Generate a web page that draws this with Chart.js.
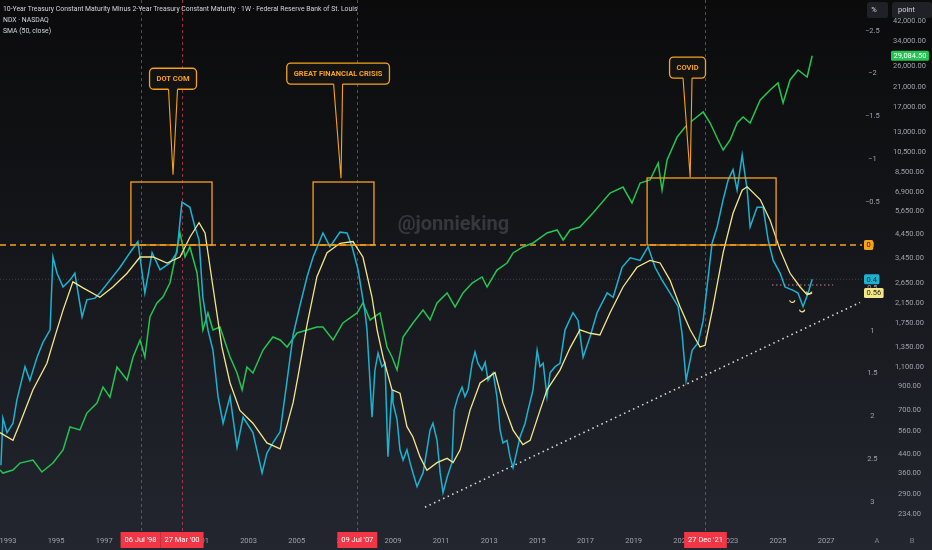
<!DOCTYPE html>
<html><head><meta charset="utf-8">
<script src="https://cdn.jsdelivr.net/npm/chart.js@4.4.0/dist/chart.umd.min.js"></script>
<style>
html,body{margin:0;padding:0;width:932px;height:550px;overflow:hidden;}
body{background:linear-gradient(to bottom,#0b0b0c 0%,#111215 30%,#1a1c22 65%,#23262f 100%);font-family:Roboto,"Noto Sans",sans-serif;}
#wrap{position:relative;width:932px;height:550px;}
#c{position:absolute;left:0;top:0;}
.hdr{position:absolute;left:3px;color:#d1d4dc;font-size:6.85px;line-height:9px;white-space:nowrap;}
</style></head><body>
<div id="wrap">
<canvas id="c" width="932" height="550"></canvas>
<div class="hdr" style="top:5px">10-Year Treasury Constant Maturity Minus 2-Year Treasury Constant Maturity · 1W · Federal Reserve Bank of St. Louis</div>
<div class="hdr" style="top:16px">NDX · NASDAQ</div>
<div class="hdr" style="top:27px">SMA (50, close)</div>
</div>
<script>
// ---- data ----
const spreadYears = [1992.71,1992.79,1992.96,1993.21,1993.37,1993.71,1993.91,1994.21,1994.45,1994.75,1994.87,1995.04,1995.29,1995.58,1995.78,1996.08,1996.28,1996.62,1996.82,1997.24,1997.66,1998.07,1998.40,1998.69,1998.99,1999.32,1999.73,2000.02,2000.23,2000.56,2000.77,2000.94,2001.10,2001.31,2001.52,2001.73,2001.94,2002.23,2002.52,2002.77,2003.18,2003.56,2003.76,2004.01,2004.31,2004.60,2004.85,2005.14,2005.43,2005.68,2006.09,2006.38,2006.80,2007.09,2007.30,2007.55,2007.84,
  2007.92,2008.13,2008.25,2008.38,2008.54,2008.67,2008.79,2008.96,2009.00,2009.17,2009.29,2009.42,2009.58,2009.71,2009.83,2010.00,2010.12,2010.25,2010.41,2010.54,2010.66,2010.83,2010.96,2011.08,2011.25,2011.45,2011.54,2011.70,2011.87,2011.99,2012.12,2012.29,2012.41,2012.53,2012.70,2012.83,2012.95,2013.16,2013.32,2013.45,2013.57,2013.74,2013.86,2013.99,2014.16,2014.28,2014.49,2014.61,2014.82,2014.99,2015.11,2015.24,2015.40,2015.53,2015.74,2015.94,
  2016.15,2016.48,2016.69,2016.90,2017.19,2017.48,2017.90,2018.15,2018.52,2018.86,2019.27,2019.60,2019.89,2020.18,2020.51,2020.85,2021.01,2021.18,2021.43,2021.68,2021.89,2022.26,2022.47,2022.72,2022.93,2023.13,2023.30,2023.51,2023.72,2023.84,2024.13,2024.38,2024.59,2024.80,2025.09,2025.29,2025.63,2025.83,2026.04,2026.25,2026.42];
const spreadValues = [2.57,2.02,2.19,2.08,1.81,1.42,1.58,1.31,1.14,0.99,0.14,0.33,0.49,0.41,0.33,0.84,0.64,0.62,0.56,0.41,0.26,0.09,-0.04,0.56,0.09,0.29,0.21,0.09,-0.50,-0.44,-0.21,-0.06,0.61,0.99,1.23,1.77,2.08,1.77,2.36,2.01,2.19,2.66,2.43,2.31,2.18,1.58,1.05,0.70,0.37,0.14,-0.14,0.02,-0.15,-0.14,0.02,0.29,0.79,
  0.99,2.01,1.46,1.26,1.42,1.38,2.47,1.69,1.84,2.04,2.39,2.51,2.39,2.54,2.66,2.82,2.74,2.66,2.39,2.16,2.08,2.28,2.66,2.89,2.71,2.54,1.93,1.77,1.66,1.77,1.69,1.38,1.25,1.38,1.46,1.37,1.58,1.49,1.77,2.16,2.31,2.28,2.47,2.60,2.39,2.24,2.08,1.93,1.69,1.23,1.42,1.38,1.77,1.49,1.42,1.38,
  0.99,0.79,0.88,1.31,1.07,0.79,0.56,0.61,0.26,0.15,0.18,0.02,0.26,0.41,0.56,0.72,1.03,1.58,1.23,1.14,0.88,-0.02,-0.21,-0.53,-0.76,-0.88,-0.64,-1.05,-0.64,-0.21,-0.44,-0.44,-0.06,0.18,0.33,0.49,0.53,0.56,0.72,0.56,0.40];

const smaYears = [1992.67,1993.21,1993.50,1994.04,1994.62,1994.95,1995.29,1995.70,1996.12,1996.82,1997.36,1997.95,1998.49,1999.03,1999.61,2000.15,2000.56,2000.94,2001.19,2001.52,2001.89,2002.23,2002.64,2003.18,2003.76,2004.31,2004.60,2004.85,2005.05,2005.43,2005.84,2006.26,2006.80,2007.34,2007.75,2008.13,
  2008.34,2008.59,2008.96,2009.29,2009.58,2009.83,2010.12,2010.41,2010.83,2011.25,2011.50,2011.79,2012.20,2012.62,2013.24,2013.57,2013.99,2014.40,2014.70,2015.11,2015.40,2015.94,
  2016.36,2016.77,2017.19,2017.60,2018.02,2018.56,2019.14,2019.68,2020.10,2020.51,2020.93,2021.35,2021.76,2021.97,2022.30,2022.72,2023.13,2023.51,2023.72,2024.26,2024.67,2025.09,2025.50,2025.92,2026.21,2026.42];
const smaValues = [2.19,2.28,2.08,1.69,1.38,1.07,0.76,0.43,0.50,0.61,0.49,0.33,0.14,0.14,0.21,0.14,-0.09,-0.26,-0.14,0.49,1.19,1.61,1.93,2.08,2.31,2.38,2.10,1.84,1.54,0.93,0.37,0.09,-0.02,-0.04,0.14,0.61,
  0.99,1.31,1.69,1.73,2.12,2.24,2.47,2.63,2.54,2.49,2.54,2.39,1.93,1.61,1.49,1.84,2.16,2.33,2.28,1.93,1.69,1.46,
  1.20,0.99,1.03,1.05,0.79,0.49,0.26,0.18,0.21,0.41,0.72,0.99,1.19,1.17,0.72,0.09,-0.37,-0.64,-0.68,-0.53,-0.29,0.06,0.33,0.49,0.58,0.56];

const ndxYears = [1992.67,1992.79,1993.21,1993.50,1994.04,1994.41,1994.87,1995.29,1995.58,1995.99,1996.28,1996.70,1996.95,1997.24,1997.53,1997.95,1998.20,1998.49,1998.69,1998.90,1999.19,1999.44,1999.73,2000.02,2000.15,2000.36,2000.56,2000.86,2001.10,2001.31,2001.52,2001.81,2002.23,2002.52,2002.73,2002.93,2003.18,2003.60,2004.01,2004.31,2004.60,2005.01,2005.43,2005.84,2006.09,2006.51,2006.92,2007.51,2007.75,2008.05,2008.46,2008.75,2008.96,2009.17,2009.42,2009.83,2010.25,2010.54,2010.83,2011.25,2011.58,2011.91,2012.29,2012.70,2012.91,2013.32,2013.74,2013.99,2014.40,2014.82,2015.40,2015.82,2016.07,2016.36,2016.77,2017.31,2018.02,2018.56,2018.93,2019.27,2019.68,2020.02,2020.18,2020.39,2020.81,2021.14,2021.47,2021.89,2022.18,2022.51,2022.72,2023.01,2023.30,2023.55,2023.84,2024.26,2024.67,2025.00,2025.21,2025.50,2025.83,2026.21,2026.42];
const ndxValues = [372,360,372,400,413,364,400,459,585,567,677,752,890,801,1099,959,1221,1461,1221,1860,2156,2296,2661,3766,4504,3498,3887,2956,1623,1941,1623,1675,1221,1032,863,1099,1032,1314,1508,1461,1357,1572,1623,1675,1675,1461,1747,1941,2156,1803,1941,1357,1221,1065,1508,1747,2002,1803,2156,2395,2067,2395,2661,2835,2551,3050,3284,3649,3887,4054,4504,4648,4183,4648,4797,5557,6860,7305,6175,7621,7865,9406,7079,9707,12367,13739,14790,16090,14326,11983,10783,11983,14326,15264,14326,18250,20284,21830,17684,22534,25030,23254,29084.5];

const trendYears = [2010.33, 2028.41];
const trendValues = [3.06, 0.67];

const xTickYears = [1993,1995,1997,1999,2001,2003,2005,2007,2009,2011,2013,2015,2017,2019,2021,2023,2025,2027];
const pctTicks = [-2.5,-2,-1.5,-1,-0.5,0,0.5,1,1.5,2,2.5,3];
const pointTicks = [234,290,360,440,560,700,900,1100,1350,1750,2150,2650,3450,4450,5650,6900,8500,10500,13000,17000,21000,26000,34000,42000];

const eventDates = [1998.51, 2000.235, 2007.518, 2021.986];
const eventLabels = ["06 Jul '98", "27 Mar '00", "09 Jul '07", "27 Dec '21"];

const crisisNames = ['DOT COM', 'GREAT FINANCIAL CRISIS', 'COVID'];
const crisisStart = [1998.11, 2005.68, 2019.56];
const crisisEnd = [2001.48, 2008.21, 2024.92];
const crisisTop = [-0.735, -0.735, -0.782];

// ---- styling / annotation placement ----
const COL = {orange:'#f7a21b', blue:'#1cb3d1', yellow:'#f3e78c', green:'#24c552', red:'#f23645', tick:'#9ea1aa'};
const calloutPos = [ {x:1999.86, y:-1.94, tx:1999.86, ty:-0.82},
                     {x:2006.72, y:-2.00, tx:2006.84, ty:-0.78},
                     {x:2021.24, y:-2.07, tx:2021.35, ty:-0.79} ];
const FONT = 'Roboto, "Noto Sans", sans-serif';

const pts = (xs, ys) => xs.map((x,i)=>({x, y: ys[i]}));

function rr(ctx,x,y,w,h,r){ctx.beginPath();ctx.moveTo(x+r,y);ctx.arcTo(x+w,y,x+w,y+h,r);ctx.arcTo(x+w,y+h,x,y+h,r);ctx.arcTo(x,y+h,x,y,r);ctx.arcTo(x,y,x+w,y,r);ctx.closePath();}

const overlay = {
  id:'overlay',
  beforeDatasetsDraw(chart){
    const {ctx, chartArea:a, scales} = chart;
    const xs = scales.x, ys = scales.ySpread;
    ctx.save();
    ctx.font = 'bold 20px ' + FONT;
    ctx.fillStyle = 'rgba(120,124,136,0.34)';
    ctx.textAlign = 'center'; ctx.textBaseline = 'middle';
    ctx.fillText('@jonnieking', a.left + a.width*0.526, a.top + a.height*0.425);
    const yl = ys.getPixelForValue(spreadValues[spreadValues.length-1]);
    ctx.strokeStyle = 'rgba(140,150,160,0.35)'; ctx.lineWidth = 1; ctx.setLineDash([1,2]);
    ctx.beginPath(); ctx.moveTo(a.left, yl); ctx.lineTo(a.right, yl); ctx.stroke();
    ctx.strokeStyle = 'rgba(205,55,85,0.75)'; ctx.setLineDash([3,3]);
    eventDates.forEach(d=>{
      const x = Math.round(xs.getPixelForValue(d))+0.5;
      ctx.beginPath(); ctx.moveTo(x, a.top); ctx.lineTo(x, a.bottom+2); ctx.stroke();
    });
    const y0 = ys.getPixelForValue(0);
    ctx.strokeStyle = COL.orange; ctx.lineWidth = 1.6; ctx.setLineDash([6,4]);
    ctx.beginPath(); ctx.moveTo(a.left, y0); ctx.lineTo(a.right, y0); ctx.stroke();
    ctx.restore();
  },
  afterDatasetsDraw(chart){
    const {ctx, chartArea:a, scales} = chart;
    const xs = scales.x, ys = scales.ySpread;
    ctx.save();
    ctx.strokeStyle = COL.orange; ctx.lineWidth = 1.3; ctx.setLineDash([]);
    crisisStart.forEach((s,i)=>{
      const x0 = xs.getPixelForValue(s), x1 = xs.getPixelForValue(crisisEnd[i]);
      const y0 = ys.getPixelForValue(crisisTop[i]), y1 = ys.getPixelForValue(0);
      ctx.strokeRect(x0, y0, x1-x0, y1-y0);
    });
    ctx.font = 'bold 7.5px ' + FONT;
    crisisNames.forEach((t,i)=>{
      const c = calloutPos[i];
      const cx = xs.getPixelForValue(c.x), cy = ys.getPixelForValue(c.y);
      const w = ctx.measureText(t).width + 14, h = 21;
      const bx = cx - w/2, by = cy - h/2;
      rr(ctx,bx,by,w,h,4);
      ctx.fillStyle = '#131313'; ctx.fill();
      ctx.strokeStyle = COL.orange; ctx.lineWidth = 1.3; ctx.stroke();
      const tx = xs.getPixelForValue(c.tx), ty = ys.getPixelForValue(c.ty);
      ctx.beginPath(); ctx.moveTo(cx-4.5, by+h-1.2); ctx.lineTo(tx, ty); ctx.lineTo(cx+4.5, by+h-1.2); ctx.closePath();
      ctx.fillStyle = '#131313'; ctx.fill();
      ctx.beginPath(); ctx.moveTo(cx-4.5, by+h); ctx.lineTo(tx, ty); ctx.lineTo(cx+4.5, by+h);
      ctx.lineWidth = 1.1; ctx.stroke();
      ctx.fillStyle = COL.orange; ctx.textAlign='center'; ctx.textBaseline='middle';
      ctx.fillText(t, cx, cy+0.5);
    });
    const yp = ys.getPixelForValue(0.467);
    ctx.strokeStyle = 'rgba(235,150,160,0.85)'; ctx.lineWidth = 1.2; ctx.setLineDash([1.5,2.5]);
    ctx.beginPath(); ctx.moveTo(xs.getPixelForValue(2024.75), yp); ctx.lineTo(xs.getPixelForValue(2027.29), yp); ctx.stroke();
    ctx.setLineDash([]); ctx.strokeStyle = COL.yellow; ctx.lineWidth = 1.2;
    [[2025.59,0.64],[2026.0,0.75],[2026.29,0.54]].forEach(p=>{
      ctx.beginPath(); ctx.arc(xs.getPixelForValue(p[0]), ys.getPixelForValue(p[1]), 2.6, 0.15, Math.PI-0.15); ctx.stroke();
    });
    ctx.restore();
  },
  afterDraw(chart){
    const {ctx, chartArea:a, scales} = chart;
    const xs = scales.x, ys = scales.ySpread, yn = scales.yNdx;
    ctx.save();
    ctx.font = '7.5px ' + FONT; ctx.textBaseline = 'middle'; ctx.textAlign = 'center';
    eventLabels.forEach((t,i)=>{
      const x = xs.getPixelForValue(eventDates[i]);
      const w = ctx.measureText(t).width + 8;
      ctx.fillStyle = COL.red; ctx.fillRect(x - w/2, a.bottom+2, w, 16);
      ctx.fillStyle = '#ffffff'; ctx.fillText(t, x, a.bottom+10.5);
    });
    const lab = (t, x, y, bg, fg) => {
      const w = ctx.measureText(t).width + 5;
      ctx.fillStyle = bg; rr(ctx, x, y-5, w, 10, 1.5); ctx.fill();
      ctx.fillStyle = fg; ctx.textAlign='left'; ctx.fillText(t, x+2.5, y+0.5);
    };
    lab('0', a.right+2, ys.getPixelForValue(0), COL.orange, '#2a1a00');
    lab('0.4', a.right+2, ys.getPixelForValue(spreadValues[spreadValues.length-1]), COL.blue, '#0d2630');
    lab('0.56', a.right+2, ys.getPixelForValue(smaValues[smaValues.length-1]), COL.yellow, '#2a2a10');
    const lastN = ndxValues[ndxValues.length-1];
    lab(lastN.toLocaleString('en-US',{minimumFractionDigits:2}), yn.left+1, yn.getPixelForValue(lastN), COL.green, '#ffffff');
    ctx.fillStyle = '#1f2126'; rr(ctx, 867, 2, 21, 16, 2.5); ctx.fill();
    rr(ctx, 892, 2, 40, 16, 2.5); ctx.fill();
    ctx.fillStyle = '#d1d4dc'; ctx.textAlign = 'center';
    ctx.fillText('%', 874, 10.5);
    ctx.textAlign = 'left'; ctx.fillText('point', 898, 10.5);
    ctx.fillStyle = '#7d808a'; ctx.textAlign = 'center';
    ctx.fillText('A', 877, 541.5); ctx.fillText('B', 912, 541.5);
    ctx.restore();
  }
};

const noPadV = s => { s.paddingTop = 0; s.paddingBottom = 0; };

const ctx = document.getElementById('c').getContext('2d');
new Chart(ctx, {
  type: 'line',
  data: {
    datasets: [
      {label:'SMA (50, close)', data: pts(smaYears, smaValues), yAxisID:'ySpread', borderColor: COL.yellow, borderWidth: 1.3, order: 0},
      {label:'10Y-2Y', data: pts(spreadYears, spreadValues), yAxisID:'ySpread', borderColor: COL.blue, borderWidth: 1.5, order: 1},
      {label:'NDX', data: pts(ndxYears, ndxValues), yAxisID:'yNdx', borderColor: COL.green, borderWidth: 1.5, order: 2},
      {label:'trend', data: pts(trendYears, trendValues), yAxisID:'ySpread', borderColor: 'rgba(235,235,235,0.9)', borderWidth: 1.6, borderDash:[1.5,3.5], order: 3}
    ]
  },
  options: {
    responsive: false, animation: false, devicePixelRatio: 1,
    layout: {padding: 0, autoPadding: false},
    elements: {point: {radius: 0}, line: {tension: 0, fill: false}},
    plugins: {legend: {display: false}, tooltip: {enabled: false}},
    scales: {
      x: {
        type: 'linear', min: 1992.67, max: 2028.49,
        grid: {display: false, drawTicks: false}, border: {display: false},
        afterBuildTicks: s => { s.ticks = xTickYears.map(v=>({value:v})); },
        afterFit: s => { s.height = 20; s.paddingLeft = 0; s.paddingRight = 0; },
        ticks: {color: COL.tick, font: {size: 7.5, family: FONT}, padding: 7, autoSkip: false, maxRotation: 0,
                callback: v => String(v)}
      },
      ySpread: {
        type: 'linear', position: 'right', reverse: true, min: -2.859, max: 3.326,
        grid: {display: false, drawTicks: false}, border: {display: false},
        afterBuildTicks: s => { s.ticks = pctTicks.map(v=>({value:v})); },
        afterFit: s => { s.width = 28; noPadV(s); },
        ticks: {color: COL.tick, font: {size: 7.5, family: FONT}, padding: 3, crossAlign: 'center', autoSkip: false,
                callback: v => v < 0 ? '\u2212' + Math.abs(v) : String(v)}
      },
      yNdx: {
        type: 'logarithmic', position: 'right', min: 197.8, max: 52272,
        grid: {display: false, drawTicks: false}, border: {display: false},
        afterBuildTicks: s => { s.ticks = pointTicks.map(v=>({value:v})); },
        afterFit: s => { s.width = 42; noPadV(s); },
        ticks: {color: COL.tick, font: {size: 7.5, family: FONT}, padding: 3, crossAlign: 'center', autoSkip: false,
                callback: v => Number(v).toLocaleString('en-US',{minimumFractionDigits:2, maximumFractionDigits:2})}
      }
    }
  },
  plugins: [overlay]
});
</script>
</body></html>
